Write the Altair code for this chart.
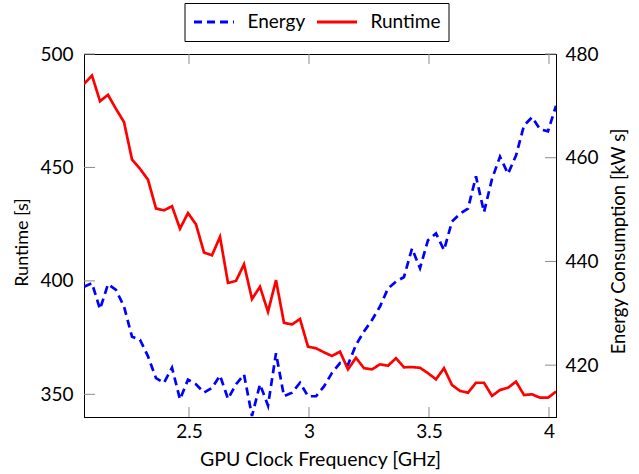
import altair as alt
import pandas as pd

# GPU clock frequency [GHz]
freq = [2.0625, 2.0958, 2.1292, 2.1625, 2.1958, 2.2292, 2.2625, 2.2958, 2.3292, 2.3625,
        2.3958, 2.4292, 2.4625, 2.4958, 2.5292, 2.5625, 2.5958, 2.6292, 2.6625, 2.6958,
        2.7292, 2.7625, 2.7958, 2.8292, 2.8625, 2.8958, 2.9292, 2.9625, 2.9958, 3.0292,
        3.0625, 3.0958, 3.1292, 3.1625, 3.1958, 3.2292, 3.2625, 3.2958, 3.3292, 3.3625,
        3.3958, 3.4292, 3.4625, 3.4958, 3.5292, 3.5625, 3.5958, 3.6292, 3.6625, 3.6958,
        3.7292, 3.7625, 3.7958, 3.8292, 3.8625, 3.8958, 3.9292, 3.9625, 3.9958, 4.0292]

# Runtime [s]
runtime = [486.8, 490.5, 479.2, 482.0, 475.8, 470.0, 453.5, 449.4, 444.6, 431.9,
           431.1, 432.9, 423.0, 429.9, 424.9, 412.5, 411.3, 419.4, 399.1, 400.0,
           407.3, 392.0, 397.4, 386.4, 400.3, 381.5, 380.8, 383.2, 371.0, 370.3,
           368.5, 366.9, 368.8, 361.0, 366.1, 361.5, 361.0, 363.2, 362.6, 365.9,
           361.9, 362.0, 361.7, 359.3, 356.6, 361.5, 354.1, 351.5, 350.7, 355.1,
           355.1, 349.3, 351.9, 352.9, 355.6, 349.7, 350.0, 348.5, 348.5, 351.2]

# Energy consumption [kW s]
energy = [435.1, 435.8, 430.8, 435.6, 434.5, 431.3, 425.5, 424.9, 421.7, 417.5,
          416.6, 419.5, 413.4, 417.2, 416.3, 414.7, 415.6, 418.0, 413.5, 416.3,
          418.2, 410.2, 416.3, 412.2, 422.3, 414.0, 414.7, 416.6, 414.0, 414.0,
          415.9, 418.5, 420.4, 420.1, 423.9, 426.5, 428.7, 431.3, 434.8, 436.1,
          437.0, 442.5, 438.7, 444.1, 445.4, 442.2, 447.7, 449.2, 450.2, 456.4,
          449.5, 455.9, 460.2, 456.9, 460.4, 466.2, 467.8, 465.5, 465.1, 470.0]

x_ticks = [2.5, 3.0, 3.5, 4.0]
runtime_ticks = [350, 400, 450, 500]
energy_ticks = [420, 440, 460, 480]
series_names = ["Energy", "Runtime"]

W, H = 472, 363
TICK = 11
TICK_COLOR = "#8c8c8c"
NUM_FONT = "Lato"
TXT_FONT = "Lato"

df_r = pd.DataFrame({"freq": freq, "value": runtime, "series": "Runtime"})
df_e = pd.DataFrame({"freq": freq, "value": energy, "series": "Energy"})
df_xt = pd.DataFrame({"freq": x_ticks})
df_rt = pd.DataFrame({"value": runtime_ticks})
df_et = pd.DataFrame({"value": energy_ticks})

x_scale = alt.Scale(domain=[freq[0], freq[-1]], nice=False, zero=False)
yr_scale = alt.Scale(domain=[340, 500], nice=False, zero=False)
ye_scale = alt.Scale(domain=[410, 480], nice=False, zero=False)

x_axis = alt.Axis(values=x_ticks, ticks=False, grid=False, format="~g",
                  labelFont=NUM_FONT, labelFontSize=19, labelPadding=5,
                  domainColor="black", domainWidth=1,
                  title="GPU Clock Frequency [GHz]", titleFont=TXT_FONT,
                  titleFontSize=19.5, titleFontWeight="normal",
                  titleX=W / 2, titleY=42, titleBaseline="middle")
yr_axis = alt.Axis(orient="left", values=runtime_ticks, ticks=False, grid=False,
                   labelFont=NUM_FONT, labelFontSize=19, labelPadding=11,
                   domainColor="black", domainWidth=1,
                   title="Runtime [s]", titleFont=TXT_FONT, titleFontSize=18,
                   titleFontWeight="normal", titleAngle=270,
                   titleX=-62, titleY=188, titleBaseline="middle")
ye_axis = alt.Axis(orient="right", values=energy_ticks, ticks=False, grid=False,
                   labelFont=NUM_FONT, labelFontSize=19, labelPadding=9,
                   domainColor="black", domainWidth=1,
                   title="Energy Consumption [kW s]", titleFont=TXT_FONT,
                   titleFontSize=18.5, titleFontWeight="normal", titleAngle=270,
                   titleX=62, titleY=187, titleBaseline="middle")

legend = alt.Legend(
    orient="none", legendX=100.5, legendY=-51, direction="horizontal", title=None,
    strokeColor="black", fillColor="white", padding=8, clipHeight=22,
    symbolType="stroke", symbolSize=1600, symbolStrokeWidth=3,
    labelFont=TXT_FONT, labelFontSize=19, labelColor="black",
    labelOffset=12, columnPadding=10,
)

color = alt.Color("series:N",
                  scale=alt.Scale(domain=series_names, range=["#0000ff", "#ff0000"]),
                  legend=legend)
dash = alt.StrokeDash("series:N",
                      scale=alt.Scale(domain=series_names, range=[[8, 5], [1, 0]]),
                      legend=legend)

energy_line = alt.Chart(df_e).mark_line(strokeWidth=2.7, clip=True).encode(
    x=alt.X("freq:Q", scale=x_scale, axis=x_axis),
    y=alt.Y("value:Q", scale=ye_scale, axis=ye_axis),
    color=color, strokeDash=dash)
energy_ticks_marks = alt.Chart(df_et).mark_rule(color=TICK_COLOR, strokeWidth=1).encode(
    y=alt.Y("value:Q", scale=ye_scale, axis=ye_axis),
    x=alt.value(W - TICK), x2=alt.value(W))

runtime_line = alt.Chart(df_r).mark_line(strokeWidth=2.7, clip=True).encode(
    x=alt.X("freq:Q", scale=x_scale, axis=x_axis),
    y=alt.Y("value:Q", scale=yr_scale, axis=yr_axis),
    color=color, strokeDash=dash)
runtime_tick_marks = alt.Chart(df_rt).mark_rule(color=TICK_COLOR, strokeWidth=1).encode(
    y=alt.Y("value:Q", scale=yr_scale, axis=yr_axis),
    x=alt.value(0), x2=alt.value(TICK))
x_bottom_ticks = alt.Chart(df_xt).mark_rule(color=TICK_COLOR, strokeWidth=1).encode(
    x=alt.X("freq:Q", scale=x_scale, axis=x_axis),
    y=alt.value(H - 10), y2=alt.value(H))
x_top_ticks = alt.Chart(df_xt).mark_rule(color=TICK_COLOR, strokeWidth=1).encode(
    x=alt.X("freq:Q", scale=x_scale, axis=x_axis),
    y=alt.value(0), y2=alt.value(10))

layer_e = alt.layer(energy_ticks_marks, energy_line)
layer_r = alt.layer(runtime_tick_marks, x_bottom_ticks, x_top_ticks, runtime_line)

chart = alt.layer(layer_e, layer_r).resolve_scale(y="independent").properties(
    width=W, height=H,
    autosize=alt.AutoSizeParams(type="none"),
    padding={"left": 84, "top": 54, "right": 639 - 84 - W, "bottom": 474 - 54 - H},
    background="white",
).configure_view(
    stroke="black", strokeWidth=1
).configure_axis(
    labelColor="black", titleColor="black"
)

chart.save("out.html", embed_options={"renderer": "svg", "actions": False})
